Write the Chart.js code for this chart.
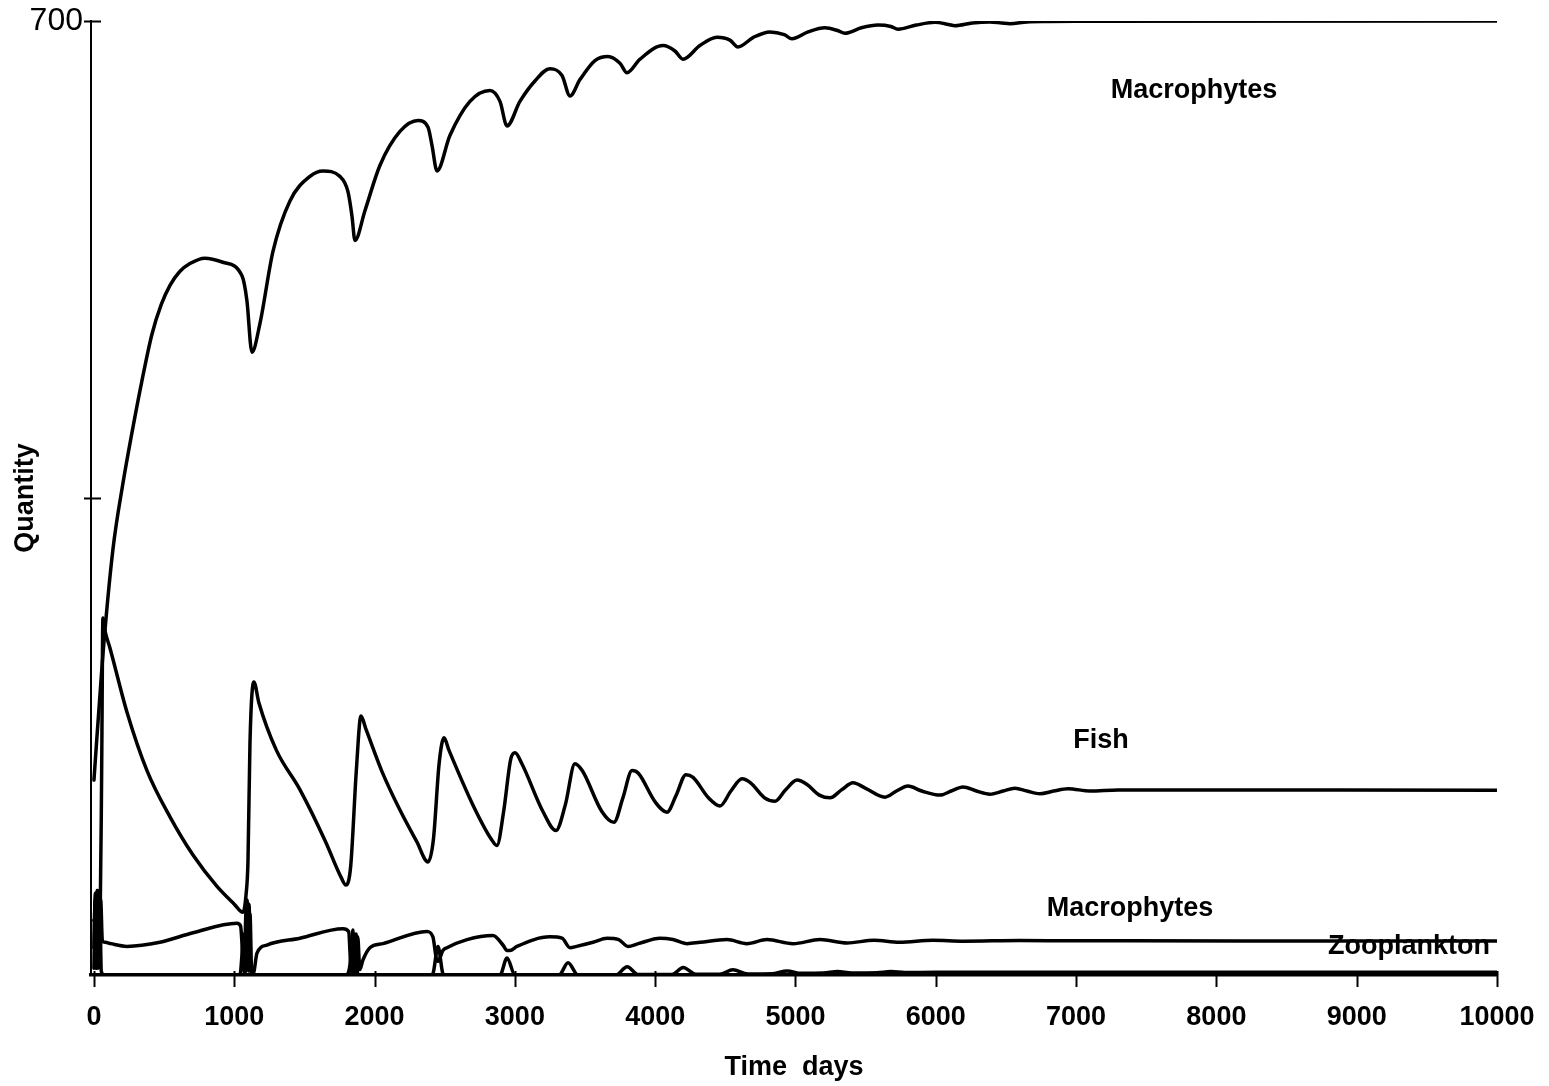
<!DOCTYPE html>
<html>
<head>
<meta charset="utf-8">
<script src="https://cdn.jsdelivr.net/npm/chart.js@4/dist/chart.umd.min.js"></script>
<style>
html,body{margin:0;padding:0;background:#fff;}
#wrap{width:1549px;height:1086px;position:relative;}
</style>
</head>
<body>
<div id="wrap"><canvas id="c" width="1549" height="1086"></canvas></div>
<script>
// ---- Data (time in days, quantity) ----
const xTicks = [0,1000,2000,3000,4000,5000,6000,7000,8000,9000,10000];
const yTicks = [0,350,700];
const yTickLabels = {700:'700'};

const macrophytes = [
  [0,143],[60,230],[135,312],[207,361],[271,398],[342,436],[413,470],[480,492],[542,506],[610,516],[684,522],[791,526],
  [919,523],[1055,513],[1090,495],[1126,457],[1183,478],[1276,531],[1397,568],[1540,586],[1632,590],[1753,586],
  [1810,575],[1839,557],[1860,539],[1932,561],[2038,594],[2181,619],[2310,627],[2381,622],[2409,609],[2445,590],
  [2537,616],[2680,641],[2822,649],[2894,641],[2944,623],[3036,641],[3143,656],[3250,665],[3336,660],[3393,645],
  [3464,657],[3571,671],[3664,674],[3749,669],[3799,662],[3892,672],[4056,682],[4141,678],[4198,672],[4319,682],
  [4440,688],[4533,686],[4590,681],[4700,688],[4818,692],[4920,690],[4975,687],[5090,692],[5210,695],[5300,693],
  [5353,691],[5470,695],[5588,697],[5680,696],[5731,694],[5860,697],[5994,699],[6090,697.5],[6137,696.5],[6260,698.5],
  [6386,699.3],[6470,698.5],[6529,698],[6650,699.3],[6800,699.6],[7000,699.8],[10000,700]
];

const fish = [
  [0,40],[30,42],[45,50],[55,150],[64,262],[80,252],[114,240],[235,193],[378,150],[542,116],[706,88],[877,65],
  [1000,52],[1062,46],[1085,60],[1098,84],[1112,170],[1140,215],[1175,200],[1300,165],[1468,136],[1650,98],
  [1760,72],[1796,66],[1830,80],[1870,150],[1903,190],[1940,180],[2050,150],[2181,121],[2300,98],[2381,83],
  [2420,100],[2460,155],[2495,174],[2530,165],[2700,125],[2830,100],[2872,95],[2920,120],[2970,158],[3001,163],
  [3050,155],[3200,120],[3293,106],[3360,125],[3428,155],[3480,150],[3620,120],[3706,112],[3770,130],[3835,150],
  [3880,148],[4000,127],[4084,119.5],[4150,132],[4219,147],[4270,145],[4380,130],[4462,124],[4540,135],[4619,144],
  [4680,141],[4780,130],[4854,127.5],[4930,136],[5011,143],[5080,140],[5170,132],[5246,130],[5330,136],[5410,141],
  [5500,137],[5638,130.5],[5720,135],[5802,138.6],[5900,135],[6030,132],[6110,135],[6194,138],[6290,135],
  [6386,132.7],[6480,135],[6564,137],[6650,135],[6743,133],[6840,135],[6942,136.7],[7100,135],[7300,135.8],[10000,135.6]
];

const phytoplankton = [
  [0,20],[10,60],[18,5],[28,62],[38,8],[48,55],[60,25],[80,24],[120,23],[235,21],[470,24],[706,31],[1019,38],
  [1045,36],[1060,15],[1070,2],[1085,48],[1095,5],[1105,52],[1118,3],[1135,1],[1162,16],[1233,22],[1468,27],
  [1775,34],[1815,32],[1835,2],[1850,30],[1862,3],[1880,28],[1895,4],[1917,11],[1967,20],[2060,23],[2373,32],
  [2416,28],[2440,12],[2452,10],[2487,18],[2516,20],[2659,26],[2844,29],[2915,22],[2944,18],[2965,18],[3015,21],
  [3250,28],[3336,27],[3393,20],[3440,21],[3557,24],[3657,27],[3740,26],[3806,21],[3880,23],[4034,27],[4127,26],
  [4227,23],[4320,24],[4512,26],[4654,23],[4797,26],[4982,23],[5175,26],[5367,23.5],[5560,25.5],[5740,24],
  [5980,25.5],[6200,24.8],[6600,25.3],[7000,25.1],[10000,25]
];

const zooplankton = [
  [0,5],[8,55],[14,5],[22,62],[30,5],[42,50],[52,3],[70,0],[1040,0],[1070,30],[1080,2],[1092,55],[1102,3],
  [1112,45],[1125,0],[1800,0],[1828,10],[1845,33],[1855,2],[1868,30],[1880,0],[2400,0],[2416,1],[2452,21],
  [2487,1],[2500,0],[2894,0],[2944,12.5],[3001,0],[3315,0],[3379,9],[3450,0],[3720,0],[3800,6],[3880,0.3],
  [4120,0.3],[4200,5.5],[4290,0.5],[4460,0.6],[4554,3.8],[4660,0.8],[4840,1],[4940,3],[5040,1.2],[5200,1.4],
  [5300,2.6],[5400,1.5],[5580,1.7],[5680,2.5],[5780,1.8],[6000,2],[10000,2]
];

const seriesLabels = [
  {text:'Macrophytes', x:7840, y:649},
  {text:'Fish', x:7177, y:172},
  {text:'Macrophytes', x:7384, y:49},
  {text:'Zooplankton', x:9373, y:21}
];

const toXY = arr => arr.map(p => ({x:p[0], y:p[1]}));
const FONT = "'Liberation Sans', Arial, sans-serif";

function ds(arr){
  return {data:toXY(arr), borderColor:'#000', borderWidth:3.5, pointRadius:0, fill:false,
          cubicInterpolationMode:'monotone', borderJoinStyle:'round', borderCapStyle:'round'};
}

const decor = {
  id:'decor',
  afterDatasetsDraw(chart){
    const ctx = chart.ctx, xs = chart.scales.x, ys = chart.scales.y;
    ctx.save();
    ctx.strokeStyle = '#000';
    ctx.lineWidth = 2;
    const y0 = ys.getPixelForValue(0);
    xTicks.forEach(v => {
      const px = Math.round(xs.getPixelForValue(v)) + 0.5;
      ctx.beginPath(); ctx.moveTo(px, y0 - 4); ctx.lineTo(px, y0 + 12); ctx.stroke();
    });
    const xAxis = xs.left;
    yTicks.forEach(v => {
      if (v === 0) return;
      const py = Math.round(ys.getPixelForValue(v)) + 0.5;
      ctx.beginPath(); ctx.moveTo(xAxis - 7, py); ctx.lineTo(xAxis + 10, py); ctx.stroke();
    });
    ctx.fillStyle = '#000';
    ctx.font = "bold 27px " + FONT;
    ctx.textAlign = 'center';
    ctx.textBaseline = 'middle';
    seriesLabels.forEach(l => {
      ctx.fillText(l.text, xs.getPixelForValue(l.x), ys.getPixelForValue(l.y));
    });
    ctx.restore();
  }
};

new Chart(document.getElementById('c'), {
  type:'line',
  data:{datasets:[ds(macrophytes), ds(fish), ds(phytoplankton), ds(zooplankton)]},
  options:{
    responsive:false,
    animation:false,
    events:[],
    layout:{padding:{top:21, right:52, left:0, bottom:0}},
    plugins:{legend:{display:false}, tooltip:{enabled:false}},
    scales:{
      x:{
        type:'linear', min:-21, max:10000,
        afterBuildTicks(s){ s.ticks = xTicks.map(v => ({value:v})); },
        afterFit(s){ s.height = 111; s.paddingLeft = 0; s.paddingRight = 0; },
        grid:{display:true, drawOnChartArea:false, drawTicks:false},
        border:{display:true, color:'#000', width:3.5},
        ticks:{color:'#000', padding:26, maxRotation:0, autoSkip:false,
               font:{family:FONT, size:27, weight:'bold'},
               callback:(v)=>String(v)},
        title:{display:true, text:'Time  days', color:'#000',
               font:{family:FONT, size:27, weight:'bold'}, padding:{top:0,bottom:2}}
      },
      y:{
        type:'linear', min:0, max:700,
        afterBuildTicks(s){ s.ticks = yTicks.map(v => ({value:v})); },
        afterFit(s){ s.width = 91; s.paddingTop = 0; s.paddingBottom = 0; },
        grid:{display:true, drawOnChartArea:false, drawTicks:false},
        border:{display:true, color:'#000', width:2},
        ticks:{color:'#000', padding:8, autoSkip:false,
               font:{family:FONT, size:32, weight:'normal'},
               callback:(v)=> yTickLabels[v] || ''},
        title:{display:true, text:'Quantity', color:'#000',
               font:{family:FONT, size:27, weight:'bold'}, padding:{top:9,bottom:0}}
      }
    }
  },
  plugins:[decor]
});
</script>
</body>
</html>
